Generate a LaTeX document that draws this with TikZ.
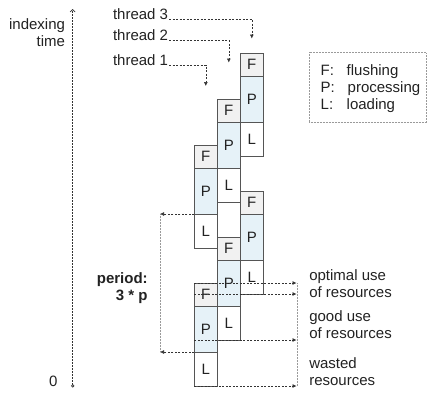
\documentclass[tikz,border=0pt]{standalone}
\usepackage{fontspec}
\setmainfont{Liberation Sans}
\usetikzlibrary{arrows.meta}
\definecolor{boxline}{HTML}{555555}
\definecolor{ffill}{HTML}{F1F1F1}
\definecolor{pfill}{HTML}{E6F2F8}
\definecolor{txt}{HTML}{222222}
\definecolor{arr}{HTML}{333333}
\definecolor{dotc}{HTML}{9A9A9A}
\begin{document}
\begin{tikzpicture}[x=1pt,y=-1pt,
  every node/.style={font=\fontsize{15}{17}\selectfont, text=txt, inner sep=0pt, outer sep=0pt},
  blk/.style={draw=boxline, line width=0.8pt, minimum width=23pt, anchor=north west},
  fblk/.style={blk, fill=ffill, minimum height=23pt},
  pblk/.style={blk, fill=pfill, minimum height=46pt},
  lblk/.style={blk, fill=white, minimum height=34pt},
  dasharrow/.style={draw=arr, line width=0.6pt, dash pattern=on 2pt off 1.5pt, -{Latex[length=4pt,width=4pt]}},
  dotline/.style={draw=dotc, line width=0.6pt, dash pattern=on 0.6pt off 0.9pt},
  lbl/.style={anchor=base west},
  rlbl/.style={anchor=base east},
]
\useasboundingbox (0,0) rectangle (427,392);

% --- thread boxes, cycle 1
\node[fblk] (F31) at (240.3,53) {F};
\node[pblk] (P31) at (240.3,76) {P};
\node[lblk] (L31) at (240.3,122) {L};
\node[fblk] (F21) at (217.3,99) {F};
\node[pblk] (P21) at (217.3,122) {P};
\node[lblk] (L21) at (217.3,168) {L};
\node[fblk] (F11) at (194.3,145) {F};
\node[pblk] (P11) at (194.3,168) {P};
\node[lblk] (L11) at (194.3,214) {L};
% --- cycle 2
\node[fblk] (F32) at (240.3,191) {F};
\node[pblk] (P32) at (240.3,214) {P};
\node[lblk] (L32) at (240.3,260) {L};
\node[fblk] (F22) at (217.3,237) {F};
\node[pblk] (P22) at (217.3,260) {P};
\node[lblk] (L22) at (217.3,306) {L};
\node[fblk] (F12) at (194.3,283) {F};
\node[pblk] (P12) at (194.3,306) {P};
\node[lblk] (L12) at (194.3,352) {L};

% --- thread labels
\node[lbl] (t3) at (113,19) {thread 3};
\node[lbl] (t2) at (113,40.7) {thread 2};
\node[lbl] (t1) at (113,65) {thread 1};
\coordinate (a3) at (251.8,38.5);
\coordinate (a2) at (228.8,62.5);
\coordinate (a1) at (205.8,86);
\draw[dasharrow] ([xshift=1pt]t3.base east) -| (a3);
\draw[dasharrow] ([xshift=1pt]t2.base east) -| (a2);
\draw[dasharrow] ([xshift=1pt]t1.base east) -| (a1);

% --- time axis
\coordinate (t0) at (72.7,387.5);
\coordinate (ttop) at (72.7,9);
\draw[draw=arr, line width=0.7pt, dash pattern=on 1.5pt off 1.5pt,
      {Circle[open,length=3.2pt,width=3.2pt]}-{Straight Barb[length=2.5pt,width=5pt]}] (t0) -- (ttop);
\node[rlbl] (ix) at (65,29.5) {indexing};
\node[rlbl] (tm) at (65,46) {time};
\node[rlbl] (zero) at (57.5,386.5) {0};

% --- period bracket
\coordinate (px) at (160,0);
\draw[dasharrow] (P11.south west) -- (P11.south west -| px);
\draw[dasharrow] (P12.south west) -- (P12.south west -| px);
\draw[dotline] (P11.south west -| px) -- (P12.south west -| px);
\node[rlbl, font=\fontsize{15}{17}\selectfont\bfseries] (per) at (147.7,283.3) {period:};
\node[rlbl, font=\fontsize{15}{17}\selectfont\bfseries] (per2) at (147.5,300) {3 * p};

% --- resource use arrows
\coordinate (rx) at (296.5,0);
\draw[dasharrow] (F12.north west) -- (F12.north west -| rx);
\draw[dasharrow] (F12.west |- L32.south) -- (L32.south -| rx);
\draw[dasharrow] (P12.west |- L22.south) -- (L22.south -| rx);
\draw[dasharrow] (L12.south west) -- (L12.south west -| rx);
\draw[dotline] ([xshift=0.6pt]F12.north west -| rx) -- ([xshift=0.6pt]L12.south west -| rx);

\node[lbl] (o1) at (309.3,280.8) {optimal use};
\node[lbl] (o2) at (309.3,297.4) {of resources};
\node[lbl] (g1) at (309.3,321.4) {good use};
\node[lbl] (g2) at (309.3,338.3) {of resources};
\node[lbl] (w1) at (309.3,368.3) {wasted};
\node[lbl] (w2) at (309.3,385) {resources};

% --- legend
\node[dotline, draw, anchor=north west, minimum width=117pt, minimum height=70.4pt] (legend) at (309,52.3) {};
\node[lbl] (lf) at (320.7,75.5) {F:};
\node[lbl] (lfx) at (346.7,75.5) {flushing};
\node[lbl] (lp) at (320.7,92.3) {P:};
\node[lbl] (lpx) at (347.7,92.3) {processing};
\node[lbl] (ll) at (320.7,109) {L:};
\node[lbl] (llx) at (346.7,109) {loading};
\end{tikzpicture}
\end{document}
